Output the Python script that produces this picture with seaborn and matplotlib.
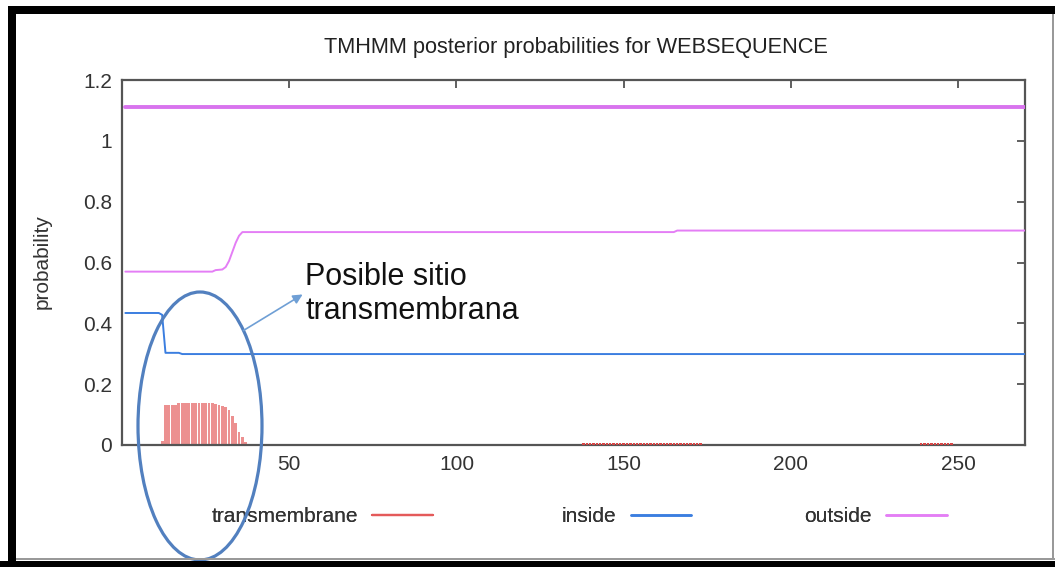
import matplotlib
matplotlib.use("Agg")
import matplotlib.pyplot as plt
import seaborn as sns
from matplotlib.lines import Line2D
from matplotlib.patches import Ellipse, Rectangle, FancyArrowPatch

# ---------------- data ----------------
title = "TMHMM posterior probabilities for WEBSEQUENCE"
series_names = ["transmembrane", "inside", "outside"]
y_label = "probability"
annotation_text = "Posible sitio\ntransmembrana"

x_ticks = [50, 100, 150, 200, 250]
y_ticks = [0, 0.2, 0.4, 0.6, 0.8, 1.0, 1.2]
y_tick_labels = ["0", "0.2", "0.4", "0.6", "0.8", "1", "1.2"]

# transmembrane posterior probability (residue, value)
tm_res = [12, 13, 14, 15, 16, 17, 18, 19, 20, 21, 22, 23, 24, 25, 26, 27,
          28, 29, 30, 31, 32, 33, 34, 35, 36, 37, 38]
tm_vals = [0.012, 0.130, 0.131, 0.131, 0.131, 0.137, 0.137, 0.137, 0.137,
           0.137, 0.137, 0.137, 0.137, 0.137, 0.137, 0.137,
           0.134, 0.133, 0.127, 0.125, 0.115, 0.095, 0.071, 0.044, 0.027,
           0.011, 0.004]
# faint transmembrane traces
tm_faint_res = list(range(138, 174)) + list(range(239, 249))
tm_faint_val = 0.005

# inside probability (breakpoints)
inside_x = [1, 11, 12, 13, 17, 18, 270]
inside_y = [0.434, 0.434, 0.428, 0.303, 0.303, 0.299, 0.299]

# outside probability (breakpoints)
outside_x = [1, 27, 28, 30, 31, 32, 33, 34, 35, 36, 165, 166, 270]
outside_y = [0.570, 0.570, 0.575, 0.577, 0.585, 0.605, 0.635, 0.665, 0.688,
             0.700, 0.700, 0.705, 0.705]

# predicted topology line (outside)
topo_x = [1, 270]
topo_y = [1.11, 1.11]

# ---------------- style ----------------
sns.set_style("white")
plt.rcParams["font.family"] = ["Liberation Sans", "DejaVu Sans"]

c_tm = "#ec9090"
c_tm_leg = "#e45a5a"
c_in = "#3b7ee0"
c_out = "#e47ef5"
c_topo = "#d874ee"

W, H = 1055, 567
fig = plt.figure(figsize=(W / 100, H / 100), dpi=100)
fig.patch.set_facecolor("white")
ax = fig.add_axes([122 / W, 1 - 445 / H, 903 / W, 365 / H])

ax.bar(tm_res, tm_vals, width=0.85, color=c_tm, linewidth=0, zorder=2)
ax.bar(tm_faint_res, [tm_faint_val] * len(tm_faint_res), width=0.7,
       color="#d84545", linewidth=0, zorder=4)
sns.lineplot(x=inside_x, y=inside_y, ax=ax, color=c_in, linewidth=1.4, zorder=3)
sns.lineplot(x=outside_x, y=outside_y, ax=ax, color=c_out, linewidth=1.4, zorder=3)
sns.lineplot(x=topo_x, y=topo_y, ax=ax, color=c_topo, linewidth=2.8, zorder=3)

ax.set_xlim(0, 270)
ax.set_ylim(0, 1.2)
ax.set_xticks(x_ticks)
ax.set_xticklabels([str(t) for t in x_ticks])
ax.set_yticks(y_ticks)
ax.set_yticklabels(y_tick_labels)
ax.tick_params(direction="in", length=6, width=1.2, color="#444",
               top=True, right=True, labelsize=15, labelcolor="#333", pad=7)
for s in ax.spines.values():
    s.set_color("#555")
    s.set_linewidth(1.6)
ax.set_xlabel("")
ax.set_ylabel("")

fig.text(42 / W, 1 - 262 / H, y_label, rotation=90, ha="center", va="center",
         fontsize=15, color="#333")
fig.text(576 / W, 1 - 47 / H, title, ha="center", va="center",
         fontsize=15.7, color="#222")

handles = [Line2D([], [], color=c_tm_leg, lw=1.6),
           Line2D([], [], color=c_in, lw=1.8),
           Line2D([], [], color=c_out, lw=1.8)]
legend_left_px = [203, 553, 796]
for h, name, lx in zip(handles, series_names, legend_left_px):
    leg = fig.legend([h], [name], loc="center left",
                     bbox_to_anchor=(lx / W, 1 - 517 / H), frameon=False,
                     markerfirst=False, handlelength=2.9, handletextpad=0.7,
                     fontsize=15, labelcolor="#333", borderaxespad=0,
                     borderpad=0.4)
    fig.add_artist(leg)

# annotation
fig.text(305 / W, 1 - 294 / H, annotation_text, ha="left", va="center",
         fontsize=22, color="#111")
fig.add_artist(Ellipse((200 / W, 1 - 426 / H), 124 / W, 268 / H,
                       transform=fig.transFigure, fill=False,
                       edgecolor="#5280bf", linewidth=2.3, zorder=10))
fig.add_artist(FancyArrowPatch((241 / W, 1 - 332 / H), (305 / W, 1 - 293 / H),
                               transform=fig.transFigure, arrowstyle="-|>",
                               mutation_scale=14, color="#6f9fd5",
                               linewidth=1.2, zorder=10))

# screenshot frame
def frame_rect(x0, y0, x1, y1, color):
    fig.add_artist(Rectangle((x0 / W, 1 - y1 / H), (x1 - x0) / W, (y1 - y0) / H,
                             transform=fig.transFigure, color=color,
                             linewidth=0, zorder=20))

frame_rect(8, 6, W, 14, "black")
frame_rect(8, 6, 16, H, "black")
frame_rect(0, 561, W, H, "black")
frame_rect(16, 558, W, 560, "#999999")
frame_rect(1052, 14, 1054, 560, "#999999")

fig.savefig("out.png", dpi=100)
